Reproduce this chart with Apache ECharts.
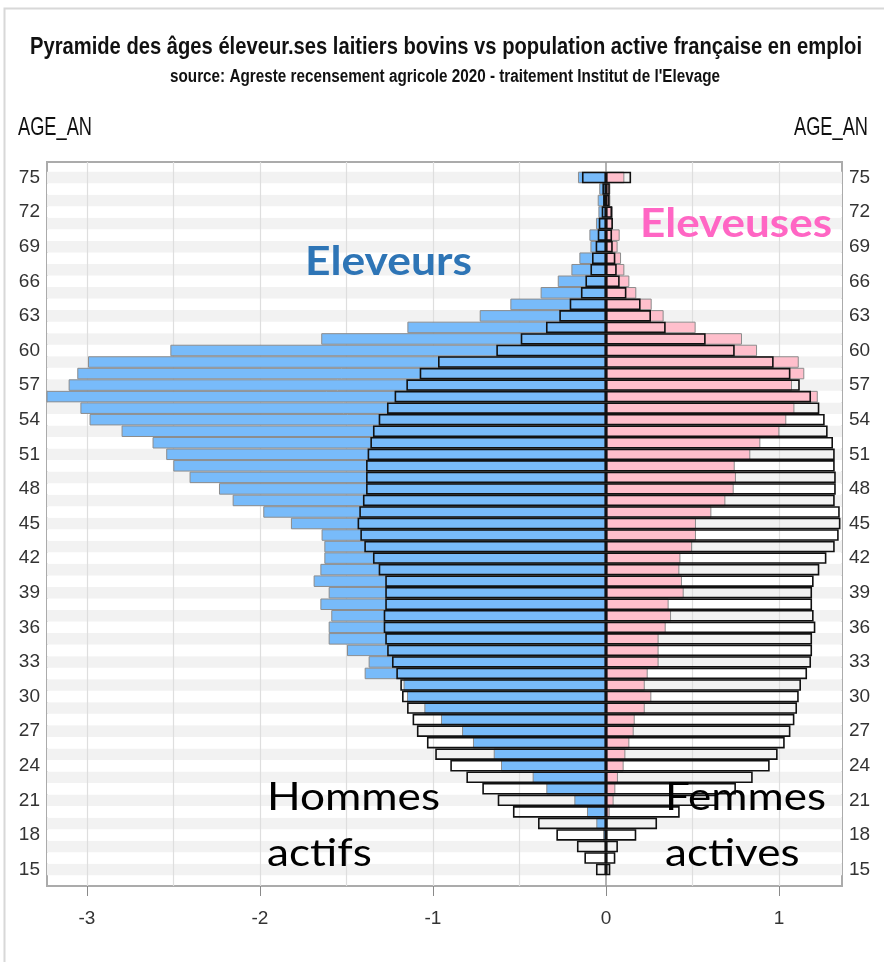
<!DOCTYPE html>
<html>
<head>
<meta charset="utf-8">
<script src="https://cdn.jsdelivr.net/npm/echarts@6/dist/echarts.min.js"></script>
<style>
html,body{margin:0;padding:0;background:#fff;}
#c{width:884px;height:962px;}
</style>
</head>
<body>
<div id="c"></div>
<script>
// ages 15 .. 75 (bottom to top)
const ages = ['15','16','17','18','19','20','21','22','23','24','25','26','27','28','29','30',
  '31','32','33','34','35','36','37','38','39','40','41','42','43','44','45','46','47','48','49','50',
  '51','52','53','54','55','56','57','58','59','60','61','62','63','64','65','66','67','68','69','70',
  '71','72','73','74','75'];

// Eleveurs (dairy farmers, men) - negative side
const farmerMen = [0,0,-0.004,-0.017,-0.056,-0.11,-0.183,-0.345,-0.424,-0.607,-0.649,-0.769,-0.832,-0.954,-1.05,-1.15,
  -1.17,-1.395,-1.372,-1.497,-1.603,-1.603,-1.588,-1.651,-1.603,-1.69,-1.651,-1.628,-1.628,-1.644,-1.821,-1.981,-2.158,-2.237,-2.407,-2.501,
  -2.542,-2.621,-2.8,-2.985,-3.038,-3.24,-3.106,-3.056,-2.994,-2.518,-1.646,-1.148,-0.73,-0.553,-0.378,-0.279,-0.2,-0.154,-0.09,-0.096,
  -0.058,-0.044,-0.048,-0.039,-0.162];

// Hommes actifs (employed men)
const activeMen = [-0.058,-0.125,-0.168,-0.287,-0.393,-0.538,-0.626,-0.715,-0.807,-0.9,-0.987,-1.035,-1.093,-1.118,-1.15,-1.179,
  -1.189,-1.212,-1.237,-1.265,-1.276,-1.285,-1.285,-1.276,-1.276,-1.276,-1.314,-1.347,-1.397,-1.42,-1.436,-1.426,-1.405,-1.387,-1.387,-1.387,
  -1.378,-1.362,-1.347,-1.314,-1.266,-1.222,-1.154,-1.077,-0.971,-0.634,-0.493,-0.347,-0.27,-0.21,-0.145,-0.119,-0.09,-0.081,-0.06,-0.048,
  -0.042,-0.025,-0.017,-0.021,-0.139];

// Eleveuses (dairy farmers, women)
const farmerWomen = [0,0,0,0.006,0.01,0.021,0.044,0.054,0.069,0.102,0.112,0.135,0.16,0.166,0.224,0.262,
  0.224,0.241,0.304,0.304,0.304,0.345,0.376,0.362,0.449,0.439,0.424,0.43,0.497,0.52,0.52,0.609,0.69,0.738,0.751,0.744,
  0.834,0.892,1.002,1.042,1.089,1.224,1.075,1.146,1.114,0.873,0.786,0.518,0.333,0.264,0.175,0.135,0.106,0.087,0.067,0.079,
  0.04,0.04,0.025,0.025,0.106];

// Femmes actives (employed women)
const activeWomen = [0.025,0.054,0.069,0.175,0.295,0.426,0.645,0.751,0.848,0.946,0.992,1.033,1.066,1.089,1.104,1.114,
  1.127,1.162,1.185,1.191,1.191,1.21,1.2,1.191,1.191,1.2,1.233,1.274,1.322,1.345,1.355,1.351,1.322,1.328,1.328,1.322,
  1.322,1.312,1.281,1.264,1.233,1.185,1.12,1.066,0.969,0.744,0.576,0.345,0.26,0.2,0.118,0.079,0.062,0.054,0.039,0.035,
  0.04,0.035,0.021,0.022,0.145];

const xTickValues = [-3, -2, -1, 0, 1];
const xGridValues = [-3, -2.5, -2, -1.5, -1, -0.5, 0, 0.5, 1];

const TITLE = 'Pyramide des âges éleveur.ses laitiers bovins vs population active française en emploi';
const SUBTITLE = "source: Agreste recensement agricole 2020 - traitement Institut de l'Elevage";

const SANS = "'Liberation Sans', Arial, sans-serif";
const XMIN = -3.231, XMAX = 1.364;

// horizontal scale so that a text run fits a given width (emulates a condensed face)
const mctx = document.createElement('canvas').getContext('2d');
function fit(text, font, width) {
  mctx.font = font;
  return width / mctx.measureText(text).width;
}

const fTitle = "bold 24px 'Liberation Sans'";
const fSub = "bold 18px 'Liberation Sans'";
const fAge = "25px 'Liberation Sans'";
const fBig = "bold 40px Lato";
const fNote = "38.5px Lato";

const sNoteH = fit('Hommes', fNote, 173);
const sNoteF = fit('Femmes', fNote, 161);

function txt(text, font, x, y, sx, fill, align) {
  return {type: 'text', x: x, y: y, scaleX: sx, z: 100, silent: true,
    style: {text: text, font: font, fill: fill, textAlign: align || 'left', textVerticalAlign: 'bottom'}};
}

const chart = echarts.init(document.getElementById('c'), null, {renderer: 'canvas'});

const barBase = {
  type: 'bar', xAxisIndex: 0, yAxisIndex: 0,
  barWidth: '100%', barGap: '-100%', barCategoryGap: 0,
  silent: true, animation: false
};

chart.setOption({
  animation: false,
  backgroundColor: '#fff',
  grid: [
    {left: 47, right: 42, top: 171.7, bottom: 86.7, show: false},
    {left: 47, right: 42, top: 162, bottom: 76, show: true, borderColor: '#ababab', borderWidth: 2, backgroundColor: 'transparent'}
  ],
  xAxis: [
    {type: 'value', gridIndex: 0, min: XMIN, max: XMAX, show: false},
    {type: 'value', gridIndex: 1, min: XMIN, max: XMAX, position: 'bottom',
      axisLine: {show: false},
      axisTick: {show: true, customValues: xTickValues, length: 10, lineStyle: {color: '#8a8a8a', width: 1}},
      axisLabel: {customValues: xTickValues, color: '#333', fontFamily: SANS, fontSize: 19, margin: 23},
      splitLine: {show: false}}
  ],
  yAxis: [
    {type: 'category', gridIndex: 0, data: ages, position: 'left',
      axisLine: {show: false}, axisTick: {show: false},
      axisLabel: {interval: 2, color: '#333', fontFamily: SANS, fontSize: 19, margin: 7},
      splitLine: {show: false},
      splitArea: {show: true, interval: 0, areaStyle: {color: ['#f2f2f2', '#ffffff']}}},
    {type: 'category', gridIndex: 0, data: ages, position: 'right',
      axisLine: {show: false}, axisTick: {show: false},
      axisLabel: {interval: 2, color: '#333', fontFamily: SANS, fontSize: 19, margin: 7},
      splitLine: {show: false}, splitArea: {show: false}},
    {type: 'value', gridIndex: 1, min: 0, max: 1, show: false}
  ],
  series: [
    Object.assign({}, barBase, {name: 'Eleveurs', data: farmerMen, z: 2,
      itemStyle: {color: '#78bbfa', borderColor: '#8c8c8c', borderWidth: 1}}),
    Object.assign({}, barBase, {name: 'Eleveuses', data: farmerWomen, z: 2,
      itemStyle: {color: '#ffbfcc', borderColor: '#8c8c8c', borderWidth: 1}}),
    Object.assign({}, barBase, {name: 'Hommes actifs', data: activeMen, z: 3,
      itemStyle: {color: 'rgba(0,0,0,0)', borderColor: '#111', borderWidth: 1.6}}),
    Object.assign({}, barBase, {name: 'Femmes actives', data: activeWomen, z: 3,
      itemStyle: {color: 'rgba(0,0,0,0)', borderColor: '#111', borderWidth: 1.6}}),
    {type: 'line', xAxisIndex: 1, yAxisIndex: 2, data: [], silent: true, animation: false,
      markLine: {
        z: 1, silent: true, symbol: ['none', 'none'], animation: false,
        label: {show: false},
        lineStyle: {type: 'solid', color: '#dedede', width: 1.2},
        data: xGridValues.map(v => ({xAxis: v, lineStyle: {color: v === 0 ? '#9a9a9a' : '#dedede', width: v === 0 ? 1.5 : 1.2}}))
      }}
  ],
  graphic: [
    {type: 'rect', left: 2, top: 6, shape: {width: 890, height: 970}, style: {fill: 'none', stroke: '#d8d8d8', lineWidth: 2}, silent: true, z: 100},
    txt(TITLE, fTitle, 446, 59.5, fit(TITLE, fTitle, 832), '#111', 'center'),
    txt(SUBTITLE, fSub, 445, 86, fit(SUBTITLE, fSub, 550), '#111', 'center'),
    txt('AGE_AN', fAge, 18, 141, fit('AGE_AN', fAge, 74), '#111', 'left'),
    txt('AGE_AN', fAge, 868, 141, fit('AGE_AN', fAge, 74), '#111', 'right'),
    txt('Eleveurs', fBig, 305, 282, fit('Eleveurs', fBig, 167), '#2e75b6', 'left'),
    txt('Eleveuses', fBig, 640, 244, fit('Eleveuses', fBig, 192), '#ff66c4', 'left'),
    txt('Hommes', fNote, 267, 817, sNoteH, '#000', 'left'),
    txt('actifs', fNote, 267, 873, sNoteH, '#000', 'left'),
    txt('Femmes', fNote, 665, 817, sNoteF, '#000', 'left'),
    txt('actives', fNote, 665, 873, sNoteF, '#000', 'left')
  ]
});
</script>
</body>
</html>
